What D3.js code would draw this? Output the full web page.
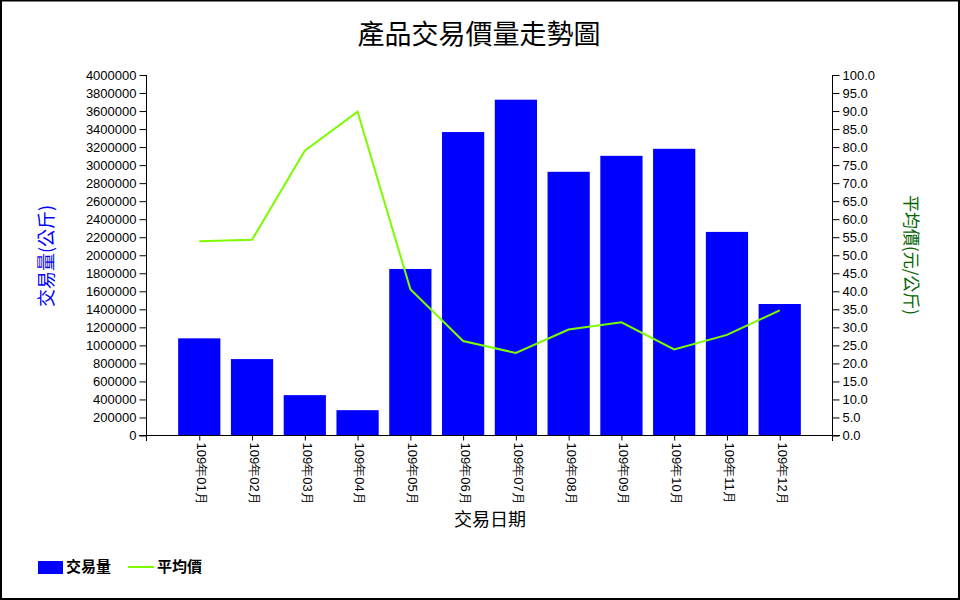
<!DOCTYPE html>
<html>
<head>
<meta charset="utf-8">
<script src="https://cdn.jsdelivr.net/npm/d3@7"></script>
<style>
html,body{margin:0;padding:0;background:#fff;}
svg{display:block;}
</style>
</head>
<body>
<svg id="chart" width="960" height="600"></svg>
<script>
const months = ["109年01月","109年02月","109年03月","109年04月","109年05月","109年06月","109年07月","109年08月","109年09月","109年10月","109年11月","109年12月"];
const volume = [1078000, 848000, 448000, 281000, 1848000, 3367000, 3726000, 2926000, 3103000, 3181000, 2259000, 1459000];
const avgPrice = [53.9, 54.3, 79.0, 89.8, 40.6, 26.2, 22.9, 29.4, 31.4, 23.9, 27.9, 34.7];
const volTicks = d3.range(0, 4000001, 200000);
const priceTicks = d3.range(0, 100.001, 5);

const title = "產品交易價量走勢圖";
const xTitle = "交易日期";
const yLeftTitle = "交易量(公斤)";
const yRightTitle = "平均價(元/公斤)";
const legendVol = "交易量";
const legendPrice = "平均價";

const svg = d3.select("#chart");
const L = 146.5, R = 832.5, T = 75, B = 435.5;
const cjk = "'Noto Sans CJK TC', 'Noto Sans CJK SC', sans-serif";
const latin = "'Liberation Sans', Arial, sans-serif";

svg.append("rect").attr("x",1).attr("y",0.5).attr("width",958).attr("height",598.5)
  .attr("fill","#fff").attr("stroke","#000").attr("stroke-width",2);

const x = d3.scalePoint().domain(months).range([L, R]).padding(1);
const barW = x.step() * 0.8;
const yL = d3.scaleLinear().domain([0, 4000000]).range([B, T]);
const yR = d3.scaleLinear().domain([0, 100]).range([B, T]);

// bars
svg.append("g").selectAll("rect").data(months).join("rect")
  .attr("x", d => x(d) - barW/2)
  .attr("y", (d,i) => yL(volume[i]))
  .attr("width", barW)
  .attr("height", (d,i) => B - yL(volume[i]))
  .attr("fill", "#0000ff");

// line
const line = d3.line().x((d,i) => x(months[i])).y(d => yR(d));
svg.append("path").datum(avgPrice).attr("d", line)
  .attr("fill","none").attr("stroke","#7cfc00").attr("stroke-width",2);

// axes
const gL = svg.append("g").attr("transform",`translate(${L},0)`)
  .call(d3.axisLeft(yL).tickValues(volTicks).tickSize(7).tickPadding(3).tickFormat(d => String(d)));
const gR = svg.append("g").attr("transform",`translate(${R},0)`)
  .call(d3.axisRight(yR).tickValues(priceTicks).tickSize(7).tickPadding(3).tickFormat(d3.format(".1f")));
const gX = svg.append("g").attr("transform",`translate(0,${B})`)
  .call(d3.axisBottom(x).tickSize(5).tickPadding(3));
[gL,gR,gX].forEach(g => {
  g.select(".domain").remove();
  g.selectAll("text").attr("font-family", latin).attr("font-size", 13).attr("fill","#000");
  g.selectAll("line").attr("stroke","#000");
});
gX.selectAll("text")
  .attr("transform","rotate(90)")
  .attr("x", 7).attr("y", 0).attr("dy","0.2em")
  .attr("text-anchor","start");

// domain lines
svg.append("line").attr("x1",139).attr("x2",840).attr("y1",B).attr("y2",B).attr("stroke","#000");
svg.append("line").attr("x1",L).attr("x2",L).attr("y1",T).attr("y2",441).attr("stroke","#000");
svg.append("line").attr("x1",R).attr("x2",R).attr("y1",T).attr("y2",441).attr("stroke","#000");

// titles
svg.append("text").text(title).attr("x",479).attr("y",35).attr("dy","0.35em")
  .attr("text-anchor","middle").attr("font-family",cjk).attr("font-size",27).attr("fill","#000");
svg.append("text").text(xTitle).attr("x",490).attr("y",520).attr("dy","0.35em")
  .attr("text-anchor","middle").attr("font-family",cjk).attr("font-size",18).attr("fill","#000");
svg.append("text").text(yLeftTitle)
  .attr("transform","translate(47,256) rotate(-90)").attr("dy","0.35em")
  .attr("text-anchor","middle").attr("font-family",cjk).attr("font-size",18).attr("fill","#0000ff");
svg.append("text").text(yRightTitle)
  .attr("transform","translate(911,255) rotate(90)").attr("dy","0.35em")
  .attr("text-anchor","middle").attr("font-family",cjk).attr("font-size",17).attr("fill","#006400");

// legend
const lg = svg.append("g");
lg.append("rect").attr("x",38).attr("y",561).attr("width",25).attr("height",13).attr("fill","#0000ff");
lg.append("text").text(legendVol).attr("x",66).attr("y",567).attr("dy","0.35em")
  .attr("font-family",cjk).attr("font-size",15).attr("font-weight","bold").attr("fill","#000");
lg.append("line").attr("x1",128).attr("x2",154).attr("y1",567).attr("y2",567)
  .attr("stroke","#7cfc00").attr("stroke-width",2);
lg.append("text").text(legendPrice).attr("x",157).attr("y",567).attr("dy","0.35em")
  .attr("font-family",cjk).attr("font-size",15).attr("font-weight","bold").attr("fill","#000");
</script>
</body>
</html>
